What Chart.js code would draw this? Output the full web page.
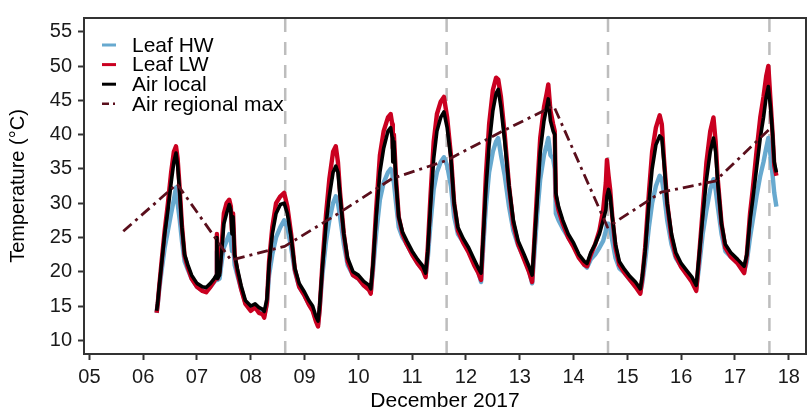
<!DOCTYPE html>
<html>
<head>
<meta charset="utf-8">
<script src="https://cdn.jsdelivr.net/npm/chart.js@4/dist/chart.umd.min.js"></script>
<style>
  html, body { margin: 0; padding: 0; background: #ffffff; }
  #wrap { width: 809px; height: 414px; }
</style>
</head>
<body>
<div id="wrap"><canvas id="c" width="809" height="414"></canvas></div>
<script>
// ---- data (time in days of December 2017) ----
const times = [
  6.25, 6.27, 6.30, 6.34, 6.40, 6.46, 6.52, 6.57, 6.61, 6.64, 6.68, 6.72, 6.77, 6.83, 6.90,
  7.00, 7.10, 7.17, 7.25, 7.32, 7.36, 7.37, 7.38, 7.42, 7.46, 7.50, 7.55, 7.60, 7.63, 7.65, 7.67, 7.70, 7.75, 7.82, 7.90,
  8.00, 8.08, 8.15, 8.22, 8.25, 8.30, 8.34, 8.40, 8.47, 8.55, 8.62, 8.68, 8.75, 8.82, 8.90,
  9.00, 9.08, 9.15, 9.21, 9.25, 9.28, 9.33, 9.40, 9.46, 9.53, 9.58, 9.62, 9.66, 9.73, 9.80, 9.90,
  10.00, 10.10, 10.20, 10.23, 10.27, 10.33, 10.40, 10.47, 10.55, 10.60, 10.63, 10.64, 10.66, 10.70, 10.75, 10.82, 10.90,
  11.00, 11.10, 11.20, 11.25, 11.29, 11.34, 11.40, 11.46, 11.53, 11.59, 11.65, 11.72, 11.78, 11.85, 11.95,
  12.05, 12.15, 12.23, 12.28, 12.32, 12.37, 12.43, 12.50, 12.56, 12.60, 12.65, 12.72, 12.80, 12.88, 12.97,
  13.08, 13.17, 13.23, 13.27, 13.32, 13.38, 13.45, 13.50, 13.53, 13.57, 13.62, 13.65, 13.67, 13.72, 13.80, 13.90,
  14.00, 14.10, 14.20, 14.25, 14.32, 14.40, 14.48, 14.55, 14.60, 14.62, 14.65, 14.68, 14.72, 14.78, 14.85, 14.95,
  15.05, 15.15, 15.24, 15.28, 15.33, 15.40, 15.46, 15.53, 15.60, 15.64, 15.68, 15.74, 15.82, 15.90,
  16.00, 16.10, 16.20, 16.28, 16.33, 16.40, 16.47, 16.54, 16.60, 16.64, 16.68, 16.75, 16.82, 16.92,
  17.05, 17.17, 17.22, 17.28, 17.33, 17.40, 17.47, 17.53, 17.58, 17.62, 17.66, 17.70, 17.73, 17.77
];
const airLocal = [
  14.3, 15.5, 18.0, 21.0, 25.5, 29.0, 33.0, 36.0, 37.3, 35.5, 31.5, 26.5, 22.5, 21.0, 19.5,
  18.3, 17.8, 17.7, 18.3, 19.0, 19.5, 25.0, 19.0, 19.5, 23.0, 27.0, 28.5, 29.8, 29.0, 25.5, 28.0, 22.5, 20.5, 18.0, 15.8,
  15.0, 15.3, 14.8, 14.5, 14.2, 16.0, 21.0, 25.5, 28.5, 29.8, 30.0, 28.5, 25.0, 20.5, 18.3,
  17.0, 15.8, 15.0, 13.5, 12.8, 15.0, 20.5, 27.0, 31.0, 34.5, 35.4, 34.5, 31.0, 25.5, 22.0, 20.0,
  19.5, 18.6, 18.0, 17.5, 21.0, 27.8, 34.5, 38.0, 40.5, 41.0, 39.5, 36.0, 39.0, 33.0, 28.0, 25.8, 24.5,
  23.0, 21.8, 20.8, 19.8, 23.0, 29.5, 36.5, 40.5, 42.5, 43.3, 41.0, 36.5, 30.0, 26.5, 24.8,
  23.5, 21.8, 20.5, 19.8, 25.0, 32.0, 38.5, 43.5, 46.0, 46.6, 44.0, 39.0, 32.5, 27.5, 24.5,
  22.5, 20.8, 19.5, 24.0, 30.0, 37.5, 42.0, 44.0, 45.2, 42.0, 40.5, 40.0, 31.5, 29.5, 27.5, 25.5,
  24.2, 22.5, 21.5, 21.2, 22.8, 24.0, 25.5, 27.5, 29.0, 31.0, 32.0, 31.0, 28.0, 24.0, 21.5, 20.3,
  19.3, 18.5, 17.5, 19.5, 23.0, 30.0, 35.0, 38.5, 39.8, 39.5, 36.0, 30.0, 25.5, 22.8,
  21.2, 20.2, 19.2, 18.0, 22.0, 28.0, 33.5, 37.5, 39.5, 37.5, 33.0, 27.0, 24.0, 22.8,
  21.8, 20.8, 22.5, 27.5, 30.5, 35.0, 39.5, 42.5, 45.5, 47.0, 44.0, 40.0, 36.0, 34.5
];
const leafLW = [
  14.0, 15.3, 18.0, 21.3, 26.0, 30.0, 34.5, 37.5, 38.3, 36.5, 32.0, 26.8, 22.3, 20.6, 19.0,
  17.8, 17.2, 17.0, 17.8, 18.6, 19.3, 25.5, 19.0, 20.0, 24.0, 28.5, 30.0, 30.5, 29.5, 26.0, 28.5, 22.5, 20.0, 17.5, 15.3,
  14.3, 14.8, 14.0, 13.8, 13.3, 15.5, 21.5, 26.5, 30.0, 31.0, 31.5, 29.5, 25.5, 20.3, 17.8,
  16.5, 15.2, 14.3, 12.8, 12.0, 14.5, 21.0, 28.5, 33.5, 37.5, 38.3, 36.0, 31.5, 25.5, 21.5, 19.5,
  19.0, 18.0, 17.3, 16.8, 21.0, 29.0, 37.0, 40.5, 42.5, 43.0, 41.5, 38.0, 40.0, 33.5, 28.0, 25.5, 24.0,
  22.5, 21.2, 20.2, 19.2, 23.5, 31.0, 39.0, 43.0, 44.8, 45.5, 42.5, 37.0, 30.0, 26.0, 24.2,
  22.8, 21.0, 19.8, 18.8, 25.5, 34.0, 41.5, 46.5, 48.3, 48.0, 45.5, 40.0, 32.5, 27.0, 24.0,
  21.8, 20.0, 18.5, 24.5, 31.5, 39.5, 44.0, 46.0, 47.3, 43.5, 41.5, 40.5, 31.0, 29.0, 27.0, 25.0,
  23.6, 22.0, 21.0, 20.8, 22.5, 24.0, 26.0, 29.0, 33.0, 36.3, 34.0, 32.0, 28.0, 23.5, 21.0, 19.8,
  18.8, 17.8, 16.8, 19.3, 23.5, 31.5, 37.5, 41.0, 42.8, 41.5, 36.5, 30.0, 25.0, 22.3,
  20.7, 19.6, 18.5, 17.2, 22.0, 29.0, 36.0, 40.5, 42.5, 39.0, 33.5, 27.0, 23.5, 22.2,
  21.2, 19.8, 22.5, 28.5, 32.0, 37.5, 42.5, 45.5, 48.5, 50.0, 45.0, 40.0, 35.5, 34.0
];
const leafHW = [
  14.0, 15.2, 17.5, 20.0, 23.5, 26.0, 28.5, 30.5, 32.3, 30.0, 27.5, 24.5, 21.5, 20.3, 19.0,
  17.8, 17.3, 17.2, 17.8, 18.5, 19.0, 23.0, 18.8, 19.0, 21.5, 23.5, 24.5, 25.5, 24.5, 23.0, 24.0, 21.0, 19.5, 17.5, 15.5,
  14.5, 15.0, 14.3, 14.0, 13.6, 15.3, 19.5, 22.5, 25.0, 26.5, 27.5, 26.5, 23.5, 20.0, 17.8,
  16.5, 15.3, 14.5, 13.0, 12.3, 14.5, 19.5, 24.5, 27.5, 30.0, 31.0, 30.0, 28.0, 24.0, 21.0, 19.5,
  19.0, 18.0, 17.5, 17.0, 20.0, 25.5, 30.5, 33.0, 34.5, 35.0, 34.5, 33.5, 33.0, 30.0, 26.5, 25.0, 24.0,
  22.5, 21.3, 20.3, 19.5, 22.0, 27.0, 32.0, 34.5, 36.0, 36.7, 35.5, 32.5, 28.0, 25.5, 24.3,
  23.0, 21.3, 20.0, 18.5, 23.5, 29.5, 34.5, 37.5, 39.0, 39.5, 37.0, 34.0, 29.5, 26.0, 23.8,
  22.0, 20.2, 18.3, 22.5, 28.0, 33.5, 37.0, 38.5, 39.5, 37.0, 36.5, 35.0, 28.5, 27.5, 26.3, 25.0,
  23.8, 22.2, 21.0, 20.6, 21.8, 22.5, 23.5, 24.5, 26.0, 27.0, 27.0, 26.5, 24.5, 22.0, 20.5, 19.8,
  18.8, 18.0, 17.0, 18.5, 21.5, 26.5, 30.0, 32.5, 34.0, 33.5, 31.5, 27.5, 24.0, 22.0,
  20.8, 19.8, 18.7, 17.5, 20.5, 25.5, 29.0, 32.0, 33.5, 32.0, 29.5, 25.5, 23.0, 22.2,
  21.3, 20.0, 21.5, 25.0, 27.5, 31.0, 34.0, 36.0, 38.0, 39.5, 37.0, 34.0, 31.5, 29.5
];
const regionalDays = [5.63, 6.63, 7.63, 8.63, 9.63, 10.63, 11.63, 12.63, 13.63, 14.63, 15.63, 16.63, 17.63];
const airRegionalMax = [25.9, 32.8, 21.7, 23.7, 28.5, 33.6, 36.2, 40.3, 44.2, 26.5, 31.6, 33.2, 40.7];
const markerDays = [8.64, 11.64, 14.64, 17.64];
const dayTicks = [5, 6, 7, 8, 9, 10, 11, 12, 13, 14, 15, 16, 17, 18];
const tempTicks = [10, 15, 20, 25, 30, 35, 40, 45, 50, 55];
const seriesNames = ['Leaf HW', 'Leaf LW', 'Air local', 'Air regional max'];

// ---- styling ----
const FONT = "'Liberation Sans', Arial, Helvetica, sans-serif";
const colHW = '#67A9CF', colLW = '#CA0020', colAir = '#000000', colReg = '#5A0F1C';
const regDash = [11, 5, 3, 5];

const toXY = (xs, ys) => xs.map((x, i) => ({ x: x, y: ys[i] }));

const markerPlugin = {
  id: 'markers',
  beforeDatasetsDraw(chart) {
    const { ctx, chartArea, scales } = chart;
    ctx.save();
    ctx.beginPath();
    ctx.rect(chartArea.left, chartArea.top, chartArea.right - chartArea.left, chartArea.bottom - chartArea.top);
    ctx.clip();
    ctx.strokeStyle = '#BDBDBD';
    ctx.lineWidth = 2.5;
    ctx.setLineDash([13, 10]);
    markerDays.forEach(d => {
      const x = scales.x.getPixelForValue(d);
      ctx.beginPath();
      ctx.moveTo(x, chartArea.bottom);
      ctx.lineTo(x, chartArea.top);
      ctx.stroke();
    });
    ctx.restore();
  },
  afterDraw(chart) {
    const { ctx, chartArea } = chart;
    ctx.save();
    // frame
    ctx.strokeStyle = '#333333';
    ctx.lineWidth = 2;
    ctx.strokeRect(chartArea.left, chartArea.top, chartArea.right - chartArea.left, chartArea.bottom - chartArea.top);
    // legend
    const items = [
      { c: colHW, dash: [], w: 3 },
      { c: colLW, dash: [], w: 3 },
      { c: colAir, dash: [], w: 3 },
      { c: colReg, dash: [7, 4, 2, 4], w: 2.5 }
    ];
    ctx.font = '21px ' + FONT;
    ctx.textBaseline = 'middle';
    ctx.textAlign = 'left';
    items.forEach((it, i) => {
      const y = chartArea.top + 27 + i * 19.6;
      ctx.strokeStyle = it.c;
      ctx.lineWidth = it.w;
      ctx.setLineDash(it.dash);
      ctx.beginPath();
      ctx.moveTo(chartArea.left + 18, y);
      ctx.lineTo(chartArea.left + 32, y);
      ctx.stroke();
      ctx.setLineDash([]);
      ctx.fillStyle = '#000000';
      ctx.fillText(seriesNames[i], chartArea.left + 48, y + 1);
    });
    ctx.restore();
  }
};

new Chart(document.getElementById('c'), {
  type: 'line',
  data: {
    datasets: [
      { label: seriesNames[3], data: toXY(regionalDays, airRegionalMax), borderColor: colReg, borderWidth: 2.8, borderDash: regDash, pointRadius: 0, order: 0 },
      { label: seriesNames[2], data: toXY(times, airLocal), borderColor: colAir, borderWidth: 3.6, pointRadius: 0, order: 1 },
      { label: seriesNames[1], data: toXY(times, leafLW), borderColor: colLW, borderWidth: 4.4, pointRadius: 0, order: 2 },
      { label: seriesNames[0], data: toXY(times, leafHW), borderColor: colHW, borderWidth: 4.4, pointRadius: 0, order: 3 }
    ]
  },
  options: {
    responsive: false,
    animation: false,
    layout: { padding: { top: 6, right: 3, left: 0, bottom: 0 } },
    elements: { line: { tension: 0, borderJoinStyle: 'round', borderCapStyle: 'butt' } },
    plugins: { legend: { display: false }, tooltip: { enabled: false } },
    scales: {
      x: {
        type: 'linear',
        min: 4.9, max: 18.32,
        afterBuildTicks: s => { s.ticks = dayTicks.map(v => ({ value: v })); },
        afterFit: s => { s.height = 60; },
        ticks: {
          autoSkip: false, maxRotation: 0, padding: 5,
          color: '#1a1a1a', font: { family: FONT, size: 20 },
          callback: v => String(v).padStart(2, '0')
        },
        grid: { display: true, drawOnChartArea: false, drawTicks: true, tickLength: 6, tickWidth: 2, color: '#333333' },
        border: { display: true, color: '#333333', width: 2 },
        title: { display: true, text: 'December 2017', color: '#000000', font: { family: FONT, size: 21 }, padding: { top: 0, bottom: 0 } }
      },
      y: {
        type: 'linear',
        min: 8.0, max: 57.0,
        afterBuildTicks: s => { s.ticks = tempTicks.map(v => ({ value: v })); },
        afterFit: s => { s.width = 84; },
        ticks: { autoSkip: false, padding: 6, color: '#1a1a1a', font: { family: FONT, size: 20 } },
        grid: { display: true, drawOnChartArea: false, drawTicks: true, tickLength: 6, tickWidth: 2, color: '#333333' },
        border: { display: true, color: '#333333', width: 2 },
        title: { display: true, text: 'Temperature (°C)', color: '#000000', font: { family: FONT, size: 20 }, padding: { top: 6, bottom: 0 } }
      }
    }
  },
  plugins: [markerPlugin]
});
</script>
</body>
</html>
